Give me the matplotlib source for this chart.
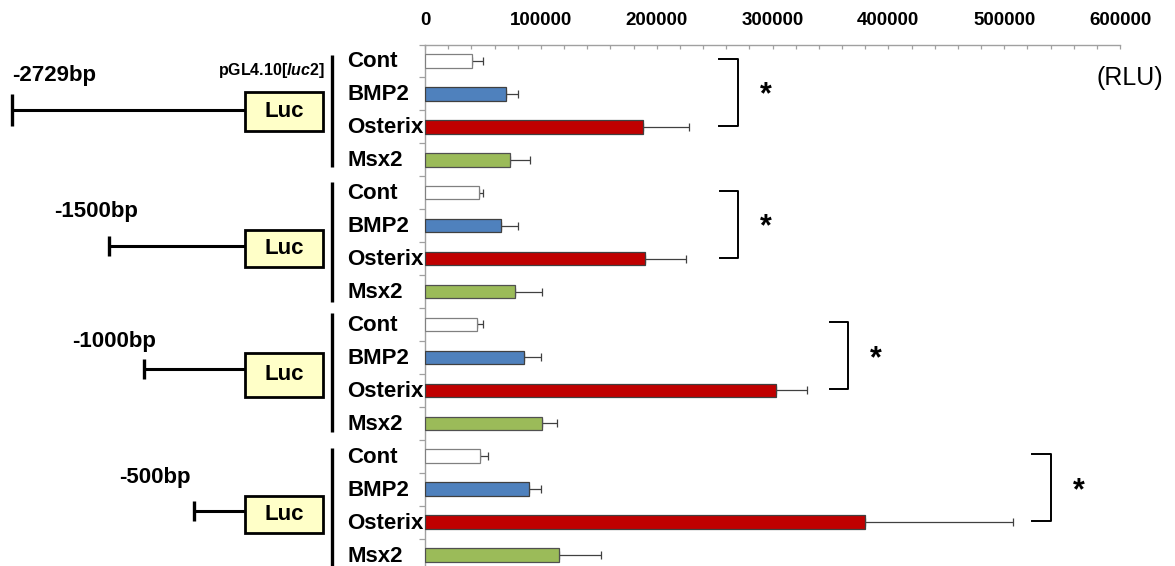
import matplotlib
matplotlib.use("Agg")
import matplotlib.pyplot as plt
from matplotlib.patches import Rectangle
from matplotlib.ticker import MultipleLocator, FixedLocator, NullFormatter

plt.rcParams["font.family"] = ["Liberation Sans", "DejaVu Sans"]
plt.rcParams["mathtext.fontset"] = "custom"
plt.rcParams["mathtext.it"] = "Liberation Sans:italic:bold"
plt.rcParams["mathtext.rm"] = "Liberation Sans:bold"

treatments = ["Cont", "BMP2", "Osterix", "Msx2"]
constructs = ["-2729bp", "-1500bp", "-1000bp", "-500bp"]
colors = ["white", "#4F81BD", "#C00000", "#9BBB59"]
edges = ["#808080", "#404040", "#404040", "#505050"]

# luciferase activity (RLU), mean and +SD, per construct in treatment order
rlu_2729 = [40300, 69700, 188000, 73700]
sd_2729 = [9500, 10900, 40200, 17200]
rlu_1500 = [46900, 65600, 190300, 77700]
sd_1500 = [3500, 15000, 34800, 23600]
rlu_1000 = [45200, 85200, 302800, 100700]
sd_1000 = [4600, 14700, 26800, 13000]
rlu_500 = [47500, 89800, 380200, 116000]
sd_500 = [6600, 10600, 127000, 36200]

means = [rlu_2729, rlu_1500, rlu_1000, rlu_500]
sds = [sd_2729, sd_1500, sd_1000, sd_500]

# significance bracket x (RLU) for Cont vs Osterix, per construct
bracket_x = [270000, 270400, 365400, 540400]

W, H = 1175, 566
fig = plt.figure(figsize=(W / 100, H / 100), dpi=100)

# overlay in pixel coordinates for the promoter schematics
deco = fig.add_axes([0, 0, 1, 1])
deco.set_xlim(0, W)
deco.set_ylim(H, 0)
deco.axis("off")

ax = fig.add_axes([425 / W, -5.5 / H, 695 / W, 527 / H])
ax.patch.set_alpha(0)

n = len(treatments)
for g in range(len(constructs)):
    for i in range(n):
        row = g * n + i
        ax.barh(row, means[g][i], height=0.41, color=colors[i],
                edgecolor=edges[i], linewidth=0.9, zorder=3)
        ax.errorbar(means[g][i], row, xerr=[[0], [sds[g][i]]], fmt="none",
                    ecolor="#404040", elinewidth=0.9, capsize=2.6,
                    capthick=0.9, zorder=2)
        ax.text(-0.1122, row + 0.03, treatments[i], transform=ax.get_yaxis_transform(),
                ha="left", va="center", fontsize=16, fontweight="bold")
    # bracket + star
    bx = bracket_x[g]
    r0, r1 = g * n, g * n + 2
    ax.plot([bx - 16000, bx, bx, bx - 16000], [r0 - 0.06, r0 - 0.06, r1 - 0.03, r1 - 0.03],
            color="black", lw=1.4, clip_on=False)
    ax.text(bx + 24000, g * n + 1.05, "*", ha="center", va="center",
            fontsize=22, fontweight="bold")

ax.set_xlim(0, 600000)
ax.set_ylim(len(constructs) * n - 0.5, -0.5)
ax.xaxis.tick_top()
ax.xaxis.set_major_locator(MultipleLocator(100000))
ax.xaxis.set_minor_locator(MultipleLocator(20000))
ax.tick_params(axis="x", which="both", direction="in", length=3, width=0.9,
               color="#A0A0A0", pad=11, labelsize=13.5)
for lab in ax.get_xticklabels():
    lab.set_fontweight("bold")
ax.yaxis.set_major_locator(FixedLocator([k - 0.5 for k in range(len(constructs) * n + 1)]))
ax.yaxis.set_major_formatter(NullFormatter())
ax.tick_params(axis="y", direction="out", length=4, width=0.9, color="#A0A0A0")
for s in ["right", "bottom"]:
    ax.spines[s].set_visible(False)
for s in ["top", "left"]:
    ax.spines[s].set_color("#A0A0A0")
    ax.spines[s].set_linewidth(1.0)

# promoter schematic layout (pixels)
label_x = [12, 54, 72, 119]
label_y = [75, 212, 341, 478]
start_x = [12, 109, 144, 194]
line_y = [110, 246, 369, 511]
tick_half = [16, 10, 10, 10]
box_y = [(92, 131), (230, 267), (353, 397), (496, 533)]
bar_y = [(55, 167), (182, 302), (313, 432), (448, 580)]
box_left, box_right = 245, 323

for g, name in enumerate(constructs):
    deco.text(label_x[g], label_y[g], name, ha="left", va="center",
              fontsize=16, fontweight="bold")
    deco.plot([start_x[g], start_x[g]], [line_y[g] - tick_half[g], line_y[g] + tick_half[g]],
              color="black", lw=2.4, solid_capstyle="butt")
    deco.plot([start_x[g], box_left], [line_y[g], line_y[g]], color="black", lw=2.2,
              solid_capstyle="butt")
    y0, y1 = box_y[g]
    deco.add_patch(Rectangle((box_left, y0), box_right - box_left, y1 - y0,
                             facecolor="#FFFFC8", edgecolor="black", lw=2.0))
    deco.text((box_left + box_right) / 2, (y0 + y1) / 2, "Luc", ha="center",
              va="center", fontsize=16, fontweight="bold")
    deco.plot([332, 332], bar_y[g], color="black", lw=2.4, solid_capstyle="butt")

deco.text(325, 70, r"pGL4.10[$\mathit{luc}$2]", ha="right", va="center",
          fontsize=11.5, fontweight="bold")
deco.text(1163, 78, "(RLU)", ha="right", va="center", fontsize=18)

fig.savefig("out.png", dpi=100)
